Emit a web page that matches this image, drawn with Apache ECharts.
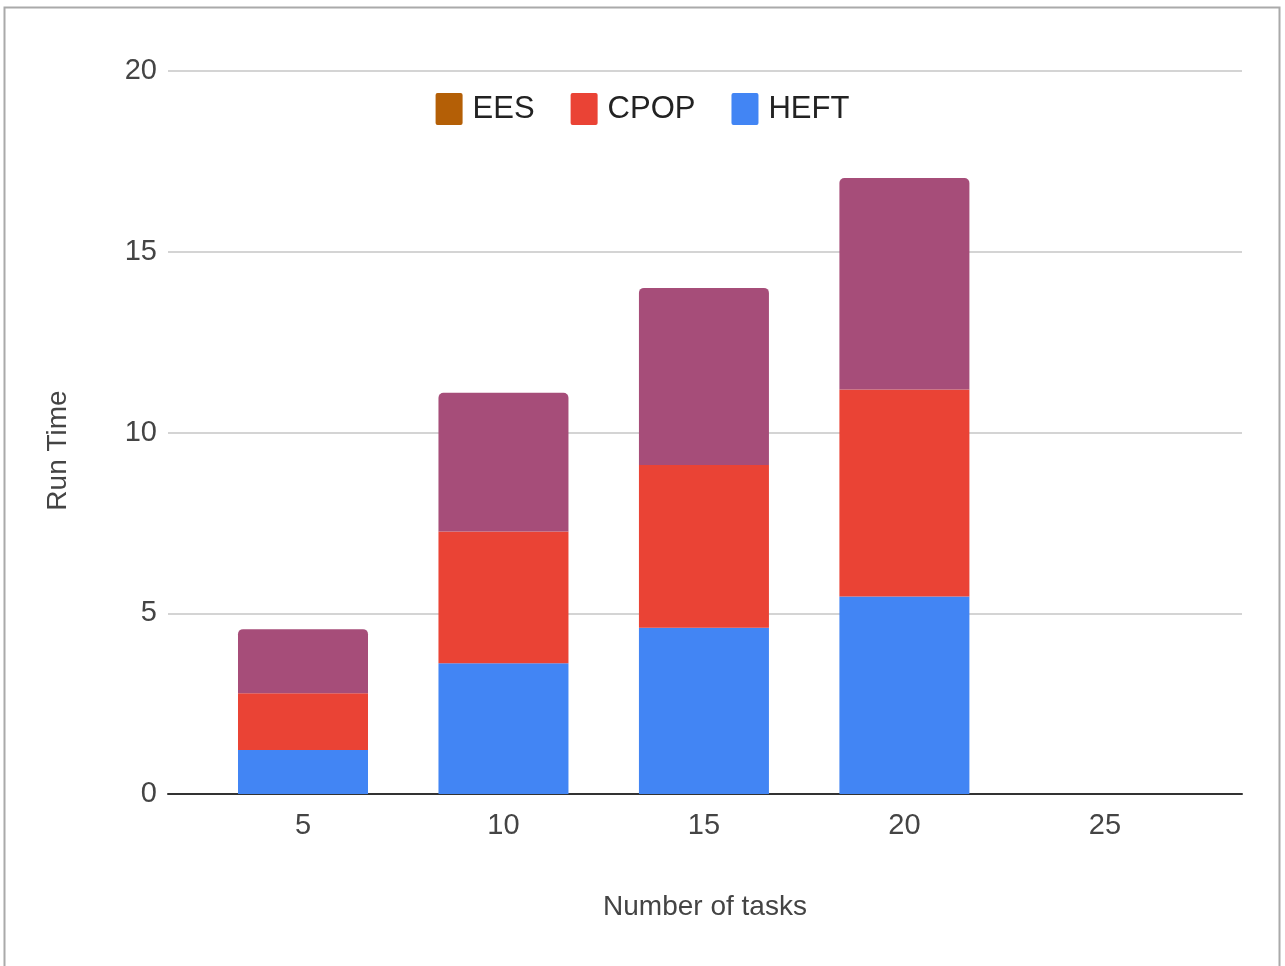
<!DOCTYPE html>
<html>
<head>
<meta charset="utf-8">
<script src="https://cdn.jsdelivr.net/npm/echarts@6/dist/echarts.min.js"></script>
<style>
  html, body { margin: 0; padding: 0; background: #fff; }
  #chart { width: 1285px; height: 966px; }
</style>
</head>
<body>
<div id="chart"></div>
<script>
const tasks = [5, 10, 15, 20, 25]
const heft = [1.22, 3.62, 4.60, 5.46, 0]
const cpop = [1.57, 3.64, 4.50, 5.73, 0]
const ees = [1.77, 3.84, 4.90, 5.85, 0]
const yTicks = [0, 5, 10, 15, 20]

const font = '"Liberation Sans", Arial, sans-serif'
// value first so the stack runs on the y dimension
const pairs = arr => tasks.map((t, i) => [arr[i], t])

const chart = echarts.init(document.getElementById('chart'))

const barSeries = (name, arr, color, extra) => ({
  name: name,
  type: 'bar',
  stack: 'total',
  barWidth: 130,
  encode: { x: 1, y: 0 },
  data: pairs(arr),
  itemStyle: Object.assign({ color: color }, extra || {})
})

const option = {
  backgroundColor: '#fff',
  animation: false,
  textStyle: { fontFamily: font },
  graphic: [
    {
      type: 'rect',
      shape: { x: 4.5, y: 7.5, width: 1275, height: 970 },
      style: { fill: 'none', stroke: '#aaa', lineWidth: 2 },
      silent: true
    }
  ],
  legend: {
    top: 88,
    left: 'center',
    itemWidth: 27,
    itemHeight: 32,
    itemGap: 36,
    icon: 'path://M2,0 L25,0 Q27,0 27,2 L27,30 Q27,32 25,32 L2,32 Q0,32 0,30 L0,2 Q0,0 2,0 Z',
    textStyle: { fontFamily: font, fontSize: 31, color: '#222', padding: [0, 0, 0, 5] },
    data: [
      { name: 'EES', itemStyle: { color: '#b45f06' } },
      { name: 'CPOP' },
      { name: 'HEFT' }
    ]
  },
  grid: { left: 168, right: 43, top: 71, bottom: 172 },
  xAxis: {
    type: 'value',
    min: 1.633,
    max: 28.42,
    name: 'Number of tasks',
    nameLocation: 'middle',
    nameGap: 99,
    nameTextStyle: { fontFamily: font, fontSize: 28, color: '#444' },
    axisLine: { show: true, onZero: false, lineStyle: { color: '#333', width: 2 } },
    axisTick: { show: false },
    splitLine: { show: false },
    axisLabel: {
      customValues: tasks,
      margin: 17,
      fontFamily: font,
      fontSize: 29,
      color: '#444'
    }
  },
  yAxis: {
    type: 'value',
    min: yTicks[0],
    max: yTicks[yTicks.length - 1],
    interval: 5,
    name: 'Run Time',
    nameLocation: 'middle',
    nameGap: 96,
    nameTextStyle: { fontFamily: font, fontSize: 28, color: '#444', padding: [0, 36, 0, 0] },
    axisLine: { show: false },
    axisTick: { show: false },
    axisLabel: { margin: 11, fontFamily: font, fontSize: 29, color: '#444' },
    splitLine: { lineStyle: { color: '#d4d4d4', width: 2 } }
  },
  series: [
    barSeries('HEFT', heft, '#4285f4'),
    barSeries('CPOP', cpop, '#ea4335'),
    barSeries('EES', ees, '#a64d79', { borderRadius: [5, 5, 0, 0] })
  ]
}

chart.setOption(option)
window.addEventListener('resize', () => chart.resize())
</script>
</body>
</html>
